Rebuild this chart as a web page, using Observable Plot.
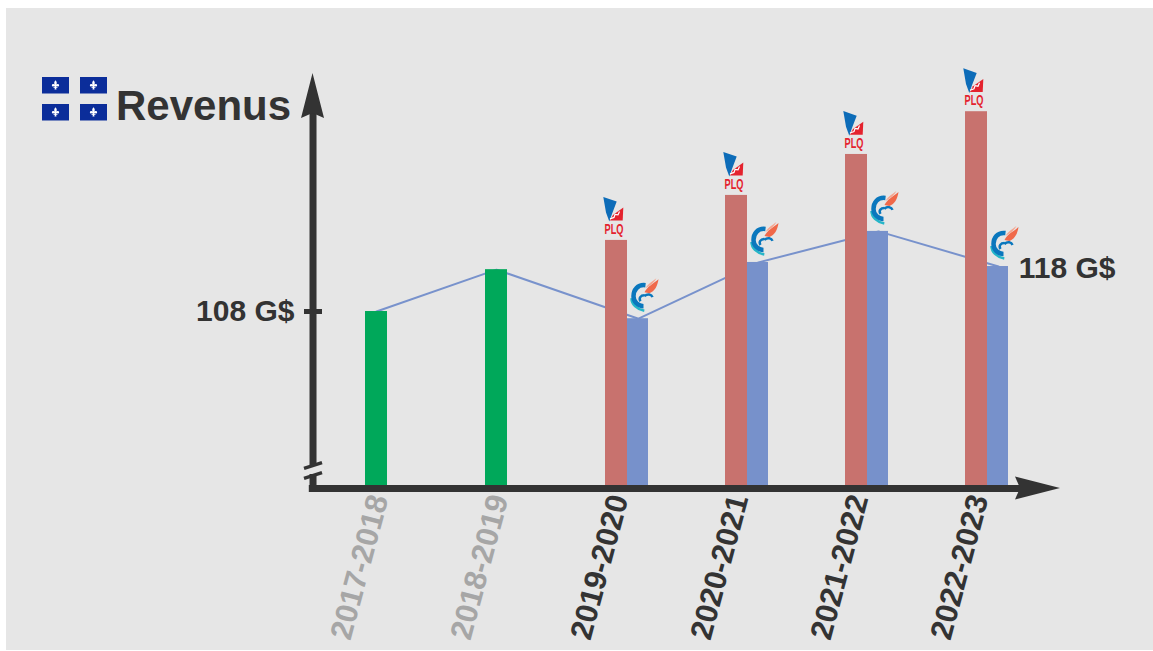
<!DOCTYPE html>
<html><head><meta charset="utf-8">
<script src="https://cdn.jsdelivr.net/npm/d3@7"></script>
<script src="https://cdn.jsdelivr.net/npm/@observablehq/plot@0.6"></script>
<style>html,body{margin:0;padding:0;background:#fff}svg{display:block}</style>
</head><body><div id="chart"></div>
<script>
const categories = ["2017-2018","2018-2019","2019-2020","2020-2021","2021-2022","2022-2023"];
const positions = [0,1,2,3,4,5];
const greenValues = [108, 117.3, null, null, null, null];
const redValues = [null, null, 123.8, 133.8, 142.9, 152.4];
const blueValues = [null, null, 106.4, 118.9, 125.8, 118];
const tickValues = [108];
const base = 68.67, top_ = 160;
const barW = 22/120, blueW = 21/120;
const ink = "#333333", font = "Liberation Sans, Arial, sans-serif";

const rows = positions.map(i => ({i, cat: categories[i], green: greenValues[i], red: redValues[i], blue: blueValues[i]}));
const linePts = rows.map(d => d.blue != null ? {x: d.i + barW, y: d.blue} : {x: d.i, y: d.green});
const axisPos = -0.529;

function decor(_, {x, y}) {
  const g = d3.create("svg:g");
  // arrow heads
  const bx = x(axisPos), by = y(base);
  g.append("path").attr("fill", ink).attr("d", `M${bx},73 L${bx+11.5},118 L${bx},113 L${bx-11.5},118 Z`);
  g.append("path").attr("fill", ink).attr("d", `M1060,${by} L1015,${by-11.5} L1020,${by} L1015,${by+11.5} Z`);
  // axis break
  g.append("rect").attr("x", bx-5).attr("y", by-22).attr("width", 10).attr("height", 8).attr("fill", "#e6e6e6");
  for (const dy of [-22.5, -12.5]) g.append("line").attr("x1", bx-8.5).attr("x2", bx+9.5).attr("y1", by+dy+2.8).attr("y2", by+dy-2.8).attr("stroke", ink).attr("stroke-width", 3.5);
  // flag
  const fleur = "M0,-5 C1.6,-3 1.6,-2 .8,-.8 C1.6,-1.6 3.6,-1.6 3.6,.2 C3.6,1.4 2,1.6 1.2,.9 L.8,2 L2,2 L2,2.8 L.7,2.8 L1,4.4 L-1,4.4 L-.7,2.8 L-2,2.8 L-2,2 L-.8,2 L-1.2,.9 C-2,1.6 -3.6,1.4 -3.6,.2 C-3.6,-1.6 -1.6,-1.6 -.8,-.8 C-1.6,-2 -1.6,-3 0,-5 Z";
  for (const [fx, fy] of [[42,77],[80,77],[42,104],[80,104]]) {
    g.append("rect").attr("x", fx).attr("y", fy).attr("width", 27).attr("height", 16.5).attr("fill", "#0b2d9a");
    g.append("path").attr("transform", `translate(${fx+13.5},${fy+8.2})`).attr("d", fleur).attr("fill", "#fff");
  }
  // party logos, anchored on the bar tops
  for (const d of rows) {
    if (d.red != null) {
      const l = g.append("g").attr("transform", `translate(${x(d.i)},${y(d.red)+1})`);
      l.append("path").attr("fill", "#0d6cb8").attr("d", "M-12.7,-44 L0.7,-39.3 L-4,-27 L-6.7,-19.3 L-10,-28.3 Z");
      l.append("path").attr("fill", "#e4232e").attr("d", "M7.3,-33.3 L6.7,-20.3 L-6,-20.3 L-3,-26 Z");
      l.append("path").attr("fill", "none").attr("stroke", "#fff").attr("stroke-width", 1.2).attr("d", "M-6,-22 L-2,-23.5 L-1,-26.5 L2,-26 L3.5,-29.5");
      l.append("text").attr("transform", "translate(-2,-7) scale(0.71,1.12)").attr("text-anchor", "middle").attr("font-family", font).attr("font-weight", 700).attr("font-size", 13).attr("fill", "#e4232e").text("PLQ");
    }
    if (d.blue != null) {
      const l = g.append("g").attr("transform", `translate(${x(d.i)+barW*120+10.5},${y(d.blue)-2})`);
      l.append("path").attr("fill", "none").attr("stroke", "#25b6c8").attr("stroke-width", 2.5).attr("d", "M-4.2,-5.5 C-12,-7 -17,-12 -17,-18");
      l.append("path").attr("fill", "none").attr("stroke", "#0a77bd").attr("stroke-width", 4.5).attr("d", "M-3,-31 C-11,-32 -15,-26 -15,-20 C-15,-14 -10,-10 -5,-10");
      l.append("path").attr("fill", "none").attr("stroke", "#0a77bd").attr("stroke-width", 2.5).attr("d", "M-4,-21 C-8,-21 -10,-18 -8,-15 M-4,-20 C-1,-23 3,-22 4,-19");
      l.append("path").attr("fill", "#f0694a").attr("d", "M-4,-24 C-1,-30 4,-32 10,-37 C9,-30 6,-25 1,-23 Z");
      l.append("path").attr("fill", "#f7a58e").attr("d", "M-3,-28 C0,-33 4,-35 8,-38 C6,-34 2,-31 -3,-28 Z");
    }
  }
  return g.node();
}

const textOpts = {fontWeight: 700, fontFamily: font};
const chart = Plot.plot({
  width: 1153, height: 651,
  marginLeft: 312.5, marginRight: 93, marginTop: 60, marginBottom: 163,
  style: {background: "transparent", fontFamily: font},
  x: {domain: [0, 5], range: [376, 976], label: null},
  y: {domain: [base, top_], range: [488, 488 - 4.5*(top_-base)], label: null},
  marks: [
    () => d3.create("svg:rect").attr("x", 6).attr("y", 8).attr("width", 1147).attr("height", 642).attr("fill", "#e6e6e6").node(),
    Plot.line(linePts, {x: "x", y: "y", stroke: "#7892cc", strokeWidth: 2}),
    Plot.rectY(rows.filter(d => d.green != null), {x1: d => d.i - barW/2, x2: d => d.i + barW/2, y1: base, y2: "green", fill: "#00a85a"}),
    Plot.rectY(rows.filter(d => d.red != null), {x1: d => d.i - barW/2, x2: d => d.i + barW/2, y1: base, y2: "red", fill: "#c8726e"}),
    Plot.rectY(rows.filter(d => d.blue != null), {x1: d => d.i + barW/2, x2: d => d.i + barW/2 + blueW, y1: base, y2: "blue", fill: "#7791cb"}),
    Plot.ruleY([base], {x1: -0.56, x2: 5.4, stroke: ink, strokeWidth: 7}),
    Plot.ruleX([axisPos], {y1: base, y2: 152, stroke: ink, strokeWidth: 7}),
    Plot.ruleY(tickValues, {x1: -0.6, x2: -0.45, stroke: ink, strokeWidth: 5}),
    decor,
    Plot.axisX({ticks: positions.slice(0,2), tickFormat: i => categories[i], tickSize: 0, tickPadding: 4, tickRotate: -75, dx: 2.5, dy: 3, fontSize: 31, fontWeight: 700, fill: "#a6a6a6", label: null, textAnchor: "end"}),
    Plot.axisX({ticks: positions.slice(2), tickFormat: i => categories[i], tickSize: 0, tickPadding: 4, tickRotate: -75, dx: 2.5, dy: 3, fontSize: 31, fontWeight: 700, fill: ink, label: null, textAnchor: "end"}),
    Plot.axisY({ticks: tickValues, tickFormat: v => `${v} G$`, tickSize: 0, tickPadding: 18.5, fontSize: 30, fontWeight: 700, fill: ink, label: null}),
    Plot.text(["118 G$"], {x: 5.352, y: 117.5, textAnchor: "start", fontSize: 30, fill: ink, ...textOpts}),
    Plot.text(["Revenus"], {frameAnchor: "top-left", dx: -197, dy: 30, lineAnchor: "top", textAnchor: "start", fontSize: 42, fill: ink, ...textOpts})
  ]
});
document.getElementById("chart").append(chart);
</script></body></html>
